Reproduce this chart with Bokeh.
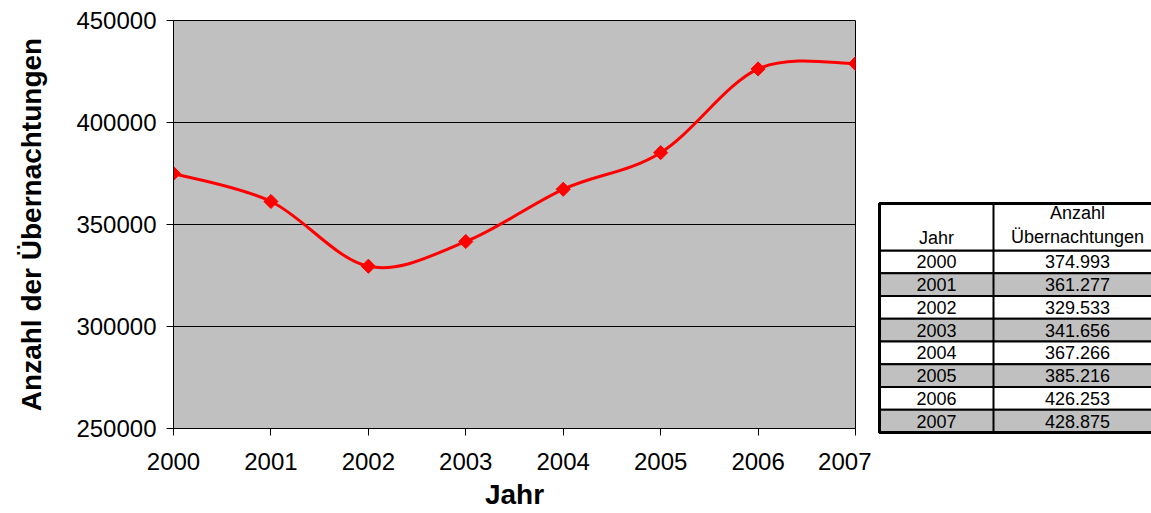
import math
from bokeh.plotting import figure
from bokeh.layouts import row
from bokeh.models import ColumnDataSource, Range1d, FixedTicker, NumeralTickFormatter
from bokeh.core.properties import value
from bokeh.embed import file_html
from bokeh.resources import INLINE

# ---- data ----
years = [2000, 2001, 2002, 2003, 2004, 2005, 2006, 2007]
nights = [374993, 361277, 329533, 341656, 367266, 385216, 426253, 428875]
y_ticks = [250000, 300000, 350000, 400000, 450000]
table_header = ["Jahr", "Anzahl", "Übernachtungen"]
x_title = "Jahr"
y_title = "Anzahl der Übernachtungen"

FONT = "Liberation Sans"
H = 513

# ---- main chart ----
p = figure(width=871, height=H, output_backend="svg", toolbar_location=None,
           x_range=Range1d(2000, 2007), y_range=Range1d(250000, 450000),
           min_border_left=173, min_border_top=20, min_border_right=16,
           min_border_bottom=H - 428)
p.background_fill_color = "#c0c0c0"
p.border_fill_color = "white"
p.outline_line_color = "black"
p.outline_line_width = 1

p.xgrid.grid_line_color = None
p.ygrid.grid_line_color = "black"
p.ygrid.grid_line_width = 1
p.ygrid.ticker = FixedTicker(ticks=y_ticks)

p.xaxis.ticker = FixedTicker(ticks=years)
p.yaxis.ticker = FixedTicker(ticks=y_ticks)
p.yaxis.formatter = NumeralTickFormatter(format="0")
for ax in (p.xaxis[0], p.yaxis[0]):
    ax.axis_line_color = "black"
    ax.major_tick_line_color = "black"
    ax.major_tick_in = 0
    ax.major_tick_out = 7
    ax.minor_tick_line_color = None
    ax.major_label_text_font = FONT
    ax.major_label_text_font_size = "24px"
    ax.major_label_text_color = "black"
    ax.axis_label_text_font = FONT
    ax.axis_label_text_font_size = "28px"
    ax.axis_label_text_font_style = "bold"
    ax.axis_label_text_color = "black"
p.xaxis.axis_label = x_title
p.yaxis.axis_label = y_title
p.xaxis.major_label_standoff = 17
p.yaxis.major_label_standoff = 10
p.xaxis.axis_label_standoff = 6
p.yaxis.axis_label_standoff = 26

# smoothed line (Catmull-Rom -> cubic Bezier, like a spreadsheet "smoothed line")
n = len(years)
x0, y0, x1, y1, cx0, cy0, cx1, cy1 = [], [], [], [], [], [], [], []
for i in range(n - 1):
    xa, ya = years[i], nights[i]
    xb, yb = years[i + 1], nights[i + 1]
    xp, yp = (years[i - 1], nights[i - 1]) if i > 0 else (xa, ya)
    xn, yn = (years[i + 2], nights[i + 2]) if i + 2 < n else (xb, yb)
    x0.append(xa); y0.append(ya); x1.append(xb); y1.append(yb)
    cx0.append(xa + (xb - xp) / 6); cy0.append(ya + (yb - yp) / 6)
    cx1.append(xb - (xn - xa) / 6); cy1.append(yb - (yn - ya) / 6)
bz = ColumnDataSource(dict(x0=x0, y0=y0, x1=x1, y1=y1, cx0=cx0, cy0=cy0, cx1=cx1, cy1=cy1))
p.bezier(x0="x0", y0="y0", x1="x1", y1="y1", cx0="cx0", cy0="cy0", cx1="cx1", cy1="cy1",
         source=bz, line_color="#ff0000", line_width=3)
p.scatter(years, nights, marker="square", size=10, angle=math.pi / 4,
          fill_color="#ff0000", line_color="#ff0000")

# ---- data table (drawn as a figure, in page pixel coordinates) ----
TW = 280
t = figure(width=TW, height=H, output_backend="svg", toolbar_location=None,
           x_range=Range1d(871, 871 + TW), y_range=Range1d(H, 0),
           min_border=0)
t.frame_align = False
t.axis.visible = False
t.grid.visible = False
t.outline_line_color = None
t.background_fill_color = "white"
t.border_fill_color = "white"

left, mid, right = 879, 993, 1161
top, head_bot = 203, 250
rh = 22.75
rows_y = [head_bot + rh * (i + 0.5) for i in range(len(years))]
fills = ["white" if i % 2 == 0 else "#c0c0c0" for i in range(len(years))]
labels = [f"{v:,}".replace(",", ".") for v in nights]
rs = ColumnDataSource(dict(y=rows_y, fill=fills, yr=[str(y) for y in years], lab=labels))

t.rect(x=(left + right) / 2, y="y", width=right - left, height=rh, source=rs,
       fill_color="fill", line_color="black", line_width=2)
t.rect(x=(left + right) / 2, y=(top + head_bot) / 2, width=right - left, height=head_bot - top,
       fill_color="white", line_color="black", line_width=2)
bottom = head_bot + rh * len(years)
t.segment(x0=[mid], y0=[top], x1=[mid], y1=[bottom], line_color="black", line_width=2)
t.rect(x=(left + right) / 2, y=(top + bottom) / 2, width=right - left, height=bottom - top,
       fill_color=None, line_color="black", line_width=3)

t.text(x=(left + mid) / 2, y="y", text="yr", source=rs, text_font=value(FONT),
       text_font_size="18px", text_align="center", text_baseline="middle", text_color="black")
t.text(x=(mid + 1161) / 2, y="y", text="lab", source=rs, text_font=value(FONT),
       text_font_size="18px", text_align="center", text_baseline="middle", text_color="black")
t.text(x=[(left + mid) / 2, (mid + 1161) / 2, (mid + 1161) / 2],
       y=[237, 212, 236],
       text=table_header, text_font=value(FONT),
       text_font_size="18px", text_align="center", text_baseline="middle", text_color="black")

layout = row(p, t, spacing=0)
open("out.html", "w").write(file_html(layout, INLINE))
